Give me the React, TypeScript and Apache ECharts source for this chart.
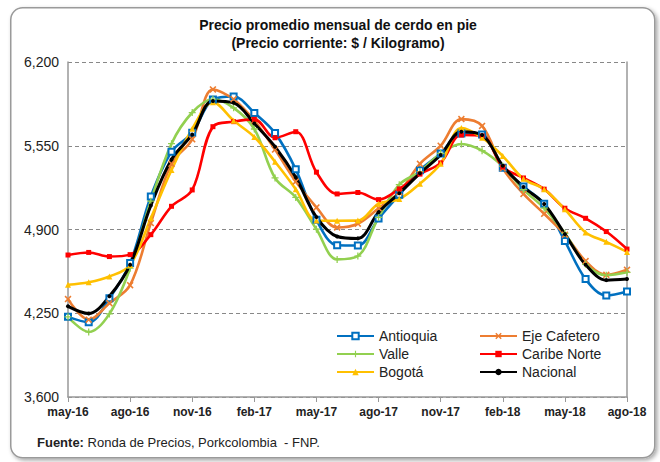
import React, { useEffect, useRef } from "react";
import * as echarts from "echarts";

const months = [
  "may-16", "jun-16", "jul-16", "ago-16", "sep-16", "oct-16", "nov-16", "dic-16",
  "ene-17", "feb-17", "mar-17", "abr-17", "may-17", "jun-17", "jul-17", "ago-17",
  "sep-17", "oct-17", "nov-17", "dic-17", "ene-18", "feb-18", "mar-18", "abr-18",
  "may-18", "jun-18", "jul-18", "ago-18",
];

const antioquia = [4222, 4181, 4366, 4640, 5156, 5504, 5650, 5908, 5932, 5805, 5648, 5367, 4975, 4778, 4776, 4985, 5170, 5360, 5490, 5646, 5638, 5380, 5233, 5099, 4810, 4515, 4388, 4419];
const ejeCafetero = [4360, 4200, 4328, 4468, 4950, 5410, 5600, 5987, 5911, 5745, 5520, 5272, 5071, 4916, 4945, 5065, 5190, 5410, 5550, 5757, 5704, 5375, 5176, 5022, 4860, 4655, 4548, 4587];
const valle = [4222, 4105, 4245, 4600, 5120, 5566, 5808, 5911, 5844, 5680, 5300, 5149, 4902, 4668, 4694, 4995, 5248, 5350, 5490, 5564, 5512, 5390, 5210, 5065, 4870, 4630, 4545, 4568];
const caribeNorte = [4702, 4722, 4690, 4705, 4860, 5080, 5207, 5698, 5737, 5755, 5612, 5659, 5345, 5176, 5187, 5132, 5215, 5330, 5417, 5633, 5626, 5385, 5300, 5213, 5065, 4987, 4884, 4748];
const bogota = [4471, 4490, 4535, 4625, 4988, 5362, 5681, 5888, 5745, 5618, 5426, 5213, 4970, 4968, 4969, 5100, 5136, 5256, 5410, 5687, 5612, 5470, 5293, 5212, 5057, 4877, 4804, 4726];
const nacional = [4304, 4248, 4382, 4627, 5086, 5444, 5638, 5898, 5883, 5723, 5542, 5305, 4996, 4846, 4831, 5034, 5181, 5336, 5478, 5658, 5633, 5395, 5230, 5098, 4864, 4627, 4507, 4516];

const yTicks = [3600, 4250, 4900, 5550, 6200];

const FONT = "'Liberation Sans', Arial, sans-serif";
const X_SYMBOL = "path://M0,1.6L1.6,0L5,3.4L8.4,0L10,1.6L6.6,5L10,8.4L8.4,10L5,6.6L1.6,10L0,8.4L3.4,5Z";
const PLUS_SYMBOL = "path://M4.1,0H5.9V4.1H10V5.9H5.9V10H4.1V5.9H0V4.1H4.1Z";

export default function App() {
  const ref = useRef<HTMLDivElement>(null);
  useEffect(() => {
    const chart = echarts.init(ref.current!, null, { renderer: "svg" });
    const mk = (name: string, data: number[], color: string, symbol: string, size: number, width = 2.6) => ({
      name,
      type: "line",
      data,
      smooth: 0.35,
      symbol,
      symbolSize: size,
      showAllSymbol: true,
      lineStyle: { color, width },
      itemStyle: { color },
      emphasis: { disabled: true },
    });
    const legendBase = {
      orient: "vertical",
      top: 329,
      padding: 0,
      itemWidth: 37,
      itemHeight: 8,
      itemGap: 4,
      textStyle: { fontSize: 14, color: "#222", fontFamily: FONT },
    };
    chart.setOption({
      animation: false,
      backgroundColor: "#fff",
      textStyle: { fontFamily: FONT },
      title: {
        text: "Precio promedio mensual de cerdo en pie\n(Precio corriente: $ / Kilogramo)",
        left: 333,
        textAlign: "center",
        top: 11,
        textStyle: { fontSize: 14, fontWeight: "bold", color: "#111", lineHeight: 18, fontFamily: FONT },
      },
      grid: { left: 68, right: 33, top: 62, bottom: 65 },
      xAxis: {
        type: "category",
        data: months,
        boundaryGap: false,
        axisLine: { lineStyle: { color: "#999", width: 1.5 } },
        axisTick: { show: true, interval: (i: number) => i % 3 === 0, length: 5, lineStyle: { color: "#999" } },
        axisLabel: {
          interval: (i: number) => i % 3 === 0,
          fontSize: 12,
          fontWeight: "bold",
          color: "#222",
          margin: 9,
          fontFamily: FONT,
        },
        splitLine: { show: false },
      },
      yAxis: [
        {
          type: "value",
          min: yTicks[0],
          max: yTicks[yTicks.length - 1],
          interval: yTicks[1] - yTicks[0],
          axisLine: { show: true, lineStyle: { color: "#999", width: 1.5 } },
          axisTick: { show: false },
          axisLabel: {
            fontSize: 14,
            color: "#222",
            margin: 9,
            fontFamily: FONT,
            formatter: (v: number) => v.toLocaleString("en-US"),
          },
          splitLine: { show: true, lineStyle: { color: "#888", type: [4, 3], width: 1 } },
        },
        {
          type: "value",
          position: "right",
          min: yTicks[0],
          max: yTicks[yTicks.length - 1],
          interval: yTicks[1] - yTicks[0],
          axisLine: { show: true, lineStyle: { color: "#999", width: 1.5 } },
          axisTick: { show: false },
          axisLabel: { show: false },
          splitLine: { show: false },
        },
      ],
      legend: [
        { ...legendBase, data: ["Antioquia", "Valle", "Bogotá"], left: 336 },
        { ...legendBase, data: ["Eje Cafetero", "Caribe Norte", "Nacional"], left: 479 },
      ],
      graphic: [
        {
          type: "rect",
          left: 10,
          top: 7,
          z: -10,
          shape: { width: 644, height: 450, r: 12 },
          style: {
            fill: "#fff",
            stroke: "#9a9a9a",
            lineWidth: 1.5,
            shadowBlur: 4,
            shadowOffsetX: 2,
            shadowOffsetY: 2,
            shadowColor: "rgba(0,0,0,0.35)",
          },
        },
        {
          type: "text",
          left: 37,
          top: 436,
          style: {
            text: "{b|Fuente:} Ronda de Precios, Porkcolombia  - FNP.",
            fontSize: 13,
            fill: "#222",
            fontFamily: FONT,
            rich: { b: { fontWeight: "bold", fontSize: 13, fontFamily: FONT, fill: "#222" } },
          },
        },
      ],
      series: [
        mk("Antioquia", antioquia, "#0070C0", "emptyRect", 6),
        mk("Eje Cafetero", ejeCafetero, "#ED7D31", X_SYMBOL, 7),
        mk("Valle", valle, "#92D050", PLUS_SYMBOL, 7),
        mk("Caribe Norte", caribeNorte, "#FF0000", "rect", 5),
        mk("Bogotá", bogota, "#FFC000", "triangle", 6),
        mk("Nacional", nacional, "#000000", "circle", 4, 3),
      ],
    });
    return () => chart.dispose();
  }, []);
  return (
    <div
      ref={ref}
      style={{ position: "absolute", left: 0, top: 0, width: 660, height: 462, background: "#fff" }}
    />
  );
}
